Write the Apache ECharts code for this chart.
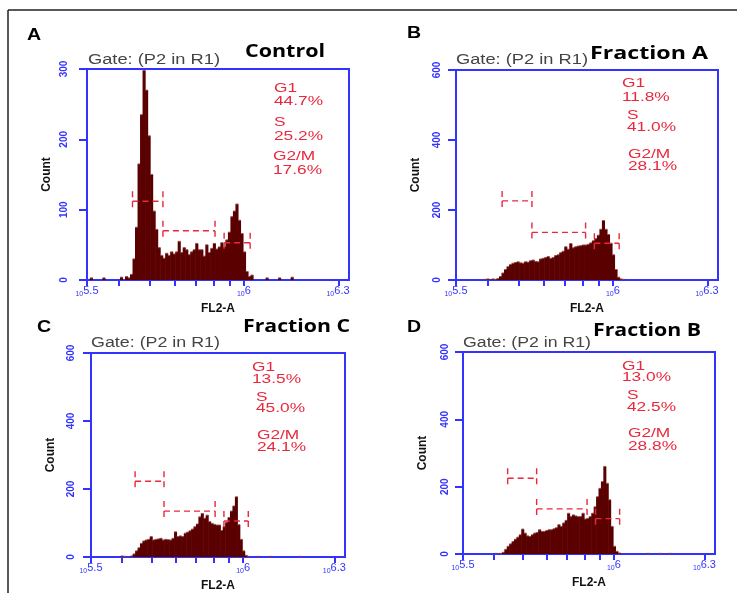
<!DOCTYPE html>
<html><head><meta charset="utf-8">
<script src="https://cdn.jsdelivr.net/npm/echarts@6/dist/echarts.min.js"></script>
<style>html,body{margin:0;padding:0;background:#fff}#c{width:737px;height:593px}</style>
</head><body><div id="c"></div>
<script>
// ---------------- data ----------------
const panelLetters = ['A', 'B', 'C', 'D'];
const panelTitles = ['Control', 'Fraction A', 'Fraction C', 'Fraction B'];
const gateText = 'Gate: (P2 in R1)';
const phaseNames = ['G1', 'S', 'G2/M'];
const phasePctA = ['44.7%', '25.2%', '17.6%'];
const phasePctB = ['11.8%', '41.0%', '28.1%'];
const phasePctC = ['13.5%', '45.0%', '24.1%'];
const phasePctD = ['13.0%', '42.5%', '28.8%'];
const xAxisName = 'FL2-A';
const yAxisName = 'Count';
const yMax = [300, 600, 600, 600];
const yStep = [100, 200, 200, 200];
const xMin = 5.5, xMax = 6.335;            // log10(FL2-A)
const xLabelExps = [5.5, 6, 6.3];
const xMinorTickValues = [4e5, 5e5, 6e5, 7e5, 8e5, 9e5, 1e6, 2e6];
const binStart = 5.510, binWidth = 0.008;  // log10 bins
const countsA = [3,0,0,0,0,3,0,0,0,0,0,0,4,0,5,3,8,30,75,165,235,298,270,205,150,98,72,46,35,31,38,35,40,37,40,55,39,46,43,36,40,43,52,43,43,34,50,39,45,52,44,47,53,47,57,68,90,98,108,85,66,40,12,5,7,0,0,0,0,0,3,0,0,0,0,3,0,0,0,0,4];
const countsB = [0,0,0,0,0,0,0,0,0,0,2,3,0,3,2,4,10,20,30,38,44,48,50,52,49,48,52,51,55,57,53,52,60,62,64,67,62,64,70,72,78,82,95,88,104,92,95,97,98,100,100,102,106,112,118,128,145,170,145,130,105,72,30,8,3,2];
const countsC = [0,0,0,0,0,0,0,0,0,0,0,3,2,0,0,3,9,18,27,40,47,50,52,60,50,52,53,55,50,52,51,50,55,74,60,62,60,70,73,77,82,89,97,118,128,114,123,104,99,96,94,94,78,89,102,116,135,150,177,95,52,18,5,2,0,0,0,2,0,0,0,0,2,0,0,0,0,0,0,0,0,0,0,0,2];
const countsD = [0,0,0,0,0,0,0,0,0,0,0,0,2,0,2,5,14,23,30,37,44,50,57,74,62,54,52,57,62,64,72,67,67,70,72,72,75,78,87,82,92,100,121,111,116,113,111,111,121,104,106,111,121,140,170,195,215,260,210,161,82,23,8,3,0,0,0,0,0,0,0,0,0,0,0,2,0,0,0,0,2,0,0,0,2];
// gates: [log10 start, log10 end, marker level (count)] for G1, S, G2/M
const gatesA = [[5.645, 5.742, 112], [5.742, 5.908, 70], [5.937, 6.020, 53]];
const gatesB = [[5.647, 5.742, 226], [5.742, 5.913, 136], [5.941, 6.020, 105]];
const gatesC = [[5.645, 5.740, 223], [5.740, 5.908, 135], [5.937, 6.017, 106]];
const gatesD = [[5.648, 5.744, 225], [5.744, 5.911, 134], [5.939, 6.019, 105]];

// ---------------- layout / style ----------------
const BLUE = '#3333ff', RED = '#e8283c', BAR = '#5a0000', BAR_TOP = '#9a5050';
const SANS = '"Liberation Sans", Arial, sans-serif';
const grids = [
  {left: 87, top: 69, width: 262, height: 211},
  {left: 456, top: 70, width: 262, height: 210},
  {left: 91, top: 353, width: 254, height: 204},
  {left: 463, top: 352, width: 252, height: 202}
];
const yLabelMargin = [18, 14, 15, 13];
const letterPos = [[27, 35], [407, 33], [37, 327], [407, 327]];
const titleBox = [[245, 52, 80], [590, 54, 118], [243, 327, 107], [593, 331, 108]];
const gateBox = [[88, 60, 132], [456, 60, 132], [91, 343, 129], [463, 343, 128]];
const statX = [[274, 274, 273], [622, 627, 628], [252, 256, 257], [622, 627, 628]];
const statY = [[88, 101.7, 122.7, 136, 156, 170], [83, 97, 115, 127, 154.5, 166.5],
               [367, 379, 397, 408, 435, 447], [366, 377, 395, 407, 433, 446]];

const counts = [countsA, countsB, countsC, countsD];
const gates = [gatesA, gatesB, gatesC, gatesD];
const pcts = [phasePctA, phasePctB, phasePctC, phasePctD];

const mctx = document.createElement('canvas').getContext('2d');
function measure(str, font) { mctx.font = font; return mctx.measureText(str).width; }
function textEl(str, x, y, font, color, targetW, sx) {
  const w = measure(str, font);
  return {type: 'text', x: x, y: y, scaleX: targetW ? targetW / w : (sx || 1), z: 10,
          style: {text: str, font: font, fill: color, align: 'left', verticalAlign: 'middle'}};
}

const option = {
  animation: false,
  backgroundColor: '#ffffff',
  grid: [], xAxis: [], yAxis: [], series: [], graphic: []
};

for (let p = 0; p < 4; p++) {
  const g = grids[p];
  option.grid.push(Object.assign({show: true, borderColor: BLUE, borderWidth: 2,
    backgroundColor: 'transparent', outerBoundsMode: 'none', containLabel: false}, g));
  option.xAxis.push({
    type: 'value', gridIndex: p, min: xMin, max: xMax,
    name: xAxisName, nameLocation: 'middle', nameGap: 23,
    nameTextStyle: {color: '#111', fontSize: 12, fontWeight: 'bold', fontFamily: SANS},
    axisLine: {show: true, onZero: false, lineStyle: {color: BLUE, width: 2}},
    axisTick: {show: true, length: 6, lineStyle: {color: BLUE, width: 2},
               customValues: [xMin].concat(xMinorTickValues.map(v => Math.log10(v)))},
    axisLabel: {
      show: true, margin: 5, color: BLUE, customValues: xLabelExps,
      formatter: v => '{s|10}{e|' + Number(v.toFixed(1)).toString() + '}',
      rich: {
        s: {fontSize: 7, color: BLUE, fontFamily: SANS, lineHeight: 13, verticalAlign: 'bottom'},
        e: {fontSize: 11, color: BLUE, fontFamily: SANS, lineHeight: 13, verticalAlign: 'top'}
      }
    },
    splitLine: {show: false}
  });
  option.yAxis.push({
    type: 'value', gridIndex: p, min: 0, max: yMax[p], interval: yStep[p],
    name: yAxisName, nameLocation: 'middle', nameGap: 34, nameRotate: 90,
    nameTextStyle: {color: '#111', fontSize: 12, fontWeight: 'bold', fontFamily: SANS},
    axisLine: {show: true, lineStyle: {color: BLUE, width: 2}},
    axisTick: {show: true, length: 8, lineStyle: {color: BLUE, width: 2}},
    axisLabel: {show: true, rotate: 90, margin: yLabelMargin[p], color: BLUE,
                fontSize: 10, fontWeight: 'bold', fontFamily: SANS},
    splitLine: {show: false}
  });
  const histData = counts[p].map((c, i) => [binStart + i * binWidth, binStart + (i + 1) * binWidth, c])
                            .filter(d => d[2] > 0);
  option.series.push({
    type: 'custom', xAxisIndex: p, yAxisIndex: p, clip: true, z: 2,
    encode: {x: [0, 1], y: 2},
    data: histData,
    renderItem: function (params, api) {
      const a = api.coord([api.value(0), api.value(2)]);
      const b = api.coord([api.value(1), 0]);
      return {type: 'group', children: [
        {type: 'rect', shape: {x: a[0] - 0.3, y: a[1], width: b[0] - a[0] + 0.6, height: b[1] - a[1]},
         style: {fill: BAR}},
        {type: 'line', shape: {x1: a[0], y1: a[1], x2: b[0], y2: a[1]},
         style: {stroke: BAR_TOP, lineWidth: 1}}
      ]};
    }
  });
  option.series.push({
    type: 'custom', xAxisIndex: p, yAxisIndex: p, z: 5,
    encode: {x: [0, 1], y: 2},
    data: gates[p],
    renderItem: function (params, api) {
      const a = api.coord([api.value(0), api.value(2)]);
      const b = api.coord([api.value(1), api.value(2)]);
      const h = 10;
      const st = {stroke: RED, lineWidth: 1.4, lineDash: [6, 4], fill: null};
      return {type: 'group', children: [
        {type: 'line', shape: {x1: a[0], y1: a[1], x2: b[0], y2: b[1]}, style: st},
        {type: 'line', shape: {x1: a[0], y1: a[1] - h, x2: a[0], y2: a[1] + h}, style: st},
        {type: 'line', shape: {x1: b[0], y1: b[1] - h, x2: b[0], y2: b[1] + h}, style: st}
      ]};
    }
  });
  option.graphic.push(textEl(panelLetters[p], letterPos[p][0], letterPos[p][1],
    'bold 17px ' + SANS, '#000', null, 1.15));
  option.graphic.push(textEl(panelTitles[p], titleBox[p][0], titleBox[p][1],
    'bold 18px "Open Sans", sans-serif', '#000', titleBox[p][2]));
  option.graphic.push(textEl(gateText, gateBox[p][0], gateBox[p][1],
    '14px ' + SANS, '#444', gateBox[p][2]));
  for (let k = 0; k < 3; k++) {
    option.graphic.push(textEl(phaseNames[k], statX[p][k], statY[p][2 * k], '13px ' + SANS, RED, null, 1.33));
    option.graphic.push(textEl(pcts[p][k], statX[p][k], statY[p][2 * k + 1], '13px ' + SANS, RED, null, 1.33));
  }
}
option.graphic.push({type: 'line', shape: {x1: 8, y1: 10, x2: 737, y2: 10}, style: {stroke: '#222', lineWidth: 1.5}});
option.graphic.push({type: 'line', shape: {x1: 8, y1: 10, x2: 8, y2: 593}, style: {stroke: '#222', lineWidth: 1.5}});

const chart = echarts.init(document.getElementById('c'), null, {renderer: 'canvas'});
chart.setOption(option);
</script>
</body></html>
